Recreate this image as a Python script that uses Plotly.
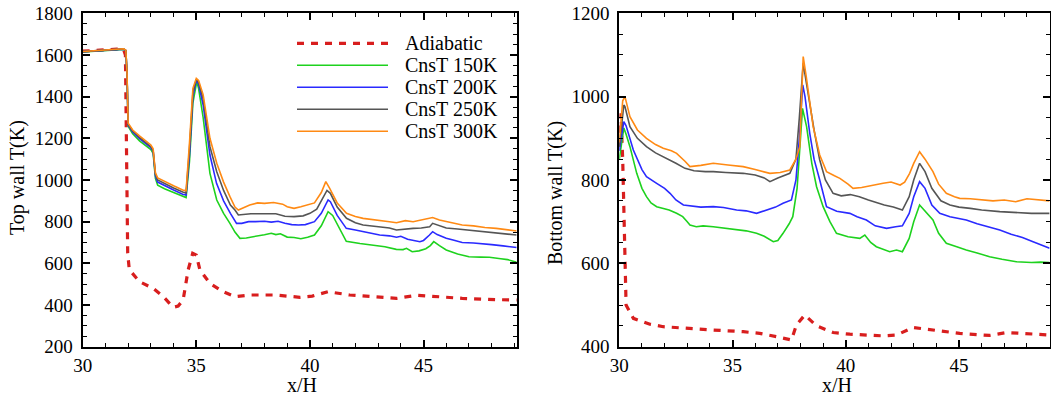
import plotly.graph_objects as go

# ---------------- data: top wall (left panel) ----------------
top_adi_x = [30.0, 30.5, 31.0, 31.5, 31.8, 31.88, 31.92, 31.95, 31.98, 32.05, 32.5, 33.1, 33.55, 33.98, 34.2,
             34.42, 34.64, 34.84, 35.0, 35.16, 35.6, 36.18, 36.7, 37.35, 38.5, 39.56, 40.1, 40.8, 41.75, 42.8,
             43.81, 44.7, 46.7, 48.2, 49.1]
top_adi_y = [1618, 1620, 1625, 1628, 1626, 1600, 1300, 900, 650, 570, 512, 480, 440, 389, 395,
             424, 568, 648, 640, 568, 504, 464, 440, 448, 448, 437, 443, 464, 448, 440,
             432, 447, 432, 426, 424]

top_c150_x = [30.0, 30.5, 31.0, 31.5, 31.8, 31.9, 31.95, 32.0, 32.2, 32.5, 32.8, 33.0, 33.1, 33.15, 33.2, 33.3,
              33.6, 34.0, 34.4, 34.55, 34.7, 34.85, 35.02, 35.1, 35.3, 35.6, 35.9, 36.2, 36.48, 36.7, 36.92,
              37.2, 37.5, 37.8, 38.0, 38.3, 38.5, 38.7, 39.0, 39.3, 39.6, 39.9, 40.2, 40.5, 40.8, 41.0, 41.3,
              41.6, 42.2, 42.8, 43.3, 43.8, 44.1, 44.25, 44.5, 44.8, 45.1, 45.3, 45.45, 45.7, 46.0, 46.5, 47.0,
              47.5, 47.9, 48.4, 48.7, 49.1]
top_c150_y = [1615, 1618, 1622, 1626, 1627, 1620, 1500, 1258, 1222, 1188, 1162, 1146, 1128, 1078, 1008, 975,
              958, 940, 922, 916, 1090, 1370, 1472, 1440, 1300, 1032, 904, 840, 792, 750, 720,
              722, 728, 732, 737, 744, 738, 742, 726, 724, 718, 725, 736, 780, 848, 830, 770,
              706, 695, 688, 680, 667, 666, 672, 656, 660, 670, 685, 704, 685, 664, 645, 632,
              630, 629, 622, 618, 605]

top_c200_x = [30.0, 30.5, 31.0, 31.5, 31.8, 31.9, 31.95, 32.0, 32.2, 32.5, 32.8, 33.0, 33.1, 33.15, 33.2, 33.3,
              33.6, 34.0, 34.4, 34.55, 34.7, 34.85, 35.0, 35.1, 35.3, 35.6, 35.89, 36.2, 36.5, 36.62, 36.77,
              37.0, 37.3, 37.6, 38.0, 38.3, 38.6, 38.9, 39.2, 39.5, 39.8, 40.2, 40.5, 40.8, 40.9, 41.2, 41.6,
              42.0, 42.34, 42.78, 43.07, 43.5, 43.81, 44.0, 44.3, 44.84, 45.0, 45.25, 45.4, 45.6, 46.0, 46.3,
              46.7, 47.2, 47.46, 48.0, 48.5, 49.1]
top_c200_y = [1616, 1619, 1623, 1627, 1628, 1621, 1505, 1264, 1230, 1198, 1172, 1155, 1138, 1090, 1020, 990,
              972, 952, 932, 928, 1120, 1400, 1480, 1460, 1360, 1120, 984, 900, 840, 816, 792,
              792, 800, 800, 802, 798, 802, 792, 786, 784, 786, 800, 840, 904, 896, 830, 768,
              760, 752, 742, 736, 732, 725, 730, 716, 704, 710, 735, 752, 738, 720, 712,
              700, 698, 696, 690, 684, 676]

top_c250_x = [30.0, 30.5, 31.0, 31.5, 31.8, 31.9, 31.95, 32.0, 32.2, 32.5, 32.8, 33.0, 33.1, 33.15, 33.2, 33.3,
              33.6, 34.0, 34.4, 34.55, 34.7, 34.85, 35.0, 35.1, 35.3, 35.6, 35.9, 36.2, 36.5, 36.7, 36.85,
              37.1, 37.4, 37.8, 38.2, 38.5, 38.9, 39.3, 39.7, 40.0, 40.3, 40.5, 40.75, 40.9, 41.2, 41.61,
              42.0, 42.34, 42.8, 43.07, 43.5, 43.81, 44.2, 44.54, 44.9, 45.27, 45.4, 45.6, 46.0, 46.5, 47.0,
              47.5, 48.0, 48.5, 49.1]
top_c250_y = [1616, 1619, 1624, 1628, 1629, 1622, 1510, 1268, 1235, 1205, 1178, 1160, 1142, 1095, 1028, 1000,
              982, 962, 942, 938, 1150, 1420, 1484, 1470, 1390, 1160, 1040, 950, 880, 856, 832,
              835, 838, 838, 836, 838, 826, 824, 828, 840, 860, 900, 950, 936, 870, 816,
              795, 784, 778, 776, 770, 760, 765, 768, 770, 776, 792, 784, 770, 765, 760,
              752, 748, 742, 736]

top_c300_x = [30.0, 30.5, 31.0, 31.5, 31.8, 31.9, 31.95, 32.0, 32.2, 32.5, 32.8, 33.0, 33.1, 33.15, 33.2, 33.3,
              33.6, 34.0, 34.4, 34.55, 34.7, 34.85, 35.0, 35.1, 35.3, 35.6, 35.9, 36.2, 36.48, 36.7, 36.85,
              37.1, 37.35, 37.7, 38.0, 38.4, 38.8, 39.0, 39.3, 39.6, 39.9, 40.2, 40.5, 40.7, 40.87, 41.2,
              41.61, 42.0, 42.34, 42.7, 43.07, 43.5, 43.81, 44.2, 44.54, 44.9, 45.27, 45.4, 45.7, 46.2, 46.7,
              47.2, 47.7, 48.2, 48.6, 49.1]
top_c300_y = [1617, 1620, 1625, 1629, 1630, 1623, 1515, 1272, 1240, 1212, 1185, 1168, 1150, 1100, 1035, 1010,
              992, 972, 952, 948, 1180, 1440, 1488, 1478, 1410, 1200, 1080, 990, 920, 870, 856,
              870, 880, 890, 888, 892, 884, 872, 864, 872, 880, 890, 940, 992, 960, 890,
              840, 825, 816, 812, 808, 800, 795, 805, 800, 808, 816, 820, 808, 795, 784,
              780, 772, 768, 762, 755]

# ---------------- data: bottom wall (right panel) ----------------
bot_adi_x = [30.0, 30.07, 30.15, 30.22, 30.3, 30.62, 31.35, 31.94, 32.83, 34.15, 35.47, 36.2, 36.94, 37.6,
             37.82, 38.19, 38.71, 39.44, 40.18, 41.65, 42.24, 42.97, 43.56, 45.03, 46.35, 47.1, 49.0]
bot_adi_y = [880, 960, 850, 650, 500, 468, 454, 448, 444, 440, 436, 432, 424, 416,
             452, 476, 450, 434, 430, 426, 428, 446, 442, 432, 427, 434, 428]

bot_c150_x = [30.0, 30.2, 30.3, 30.47, 30.77, 31.0, 31.2, 31.4, 31.65, 31.9, 32.2, 32.53, 32.8, 33.0, 33.12,
              33.4, 33.7, 34.15, 34.6, 35.18, 35.6, 36.06, 36.4, 36.8, 37.0, 37.23, 37.5, 37.66, 37.85, 38.0,
              38.09, 38.27, 38.5, 38.71, 39.0, 39.3, 39.59, 40.1, 40.62, 40.84, 41.1, 41.35, 41.7, 41.94,
              42.24, 42.5, 42.8, 43.0, 43.26, 43.5, 43.85, 44.1, 44.44, 44.9, 45.32, 45.8, 46.35, 46.9,
              47.53, 48.2, 48.6, 49.0]
bot_c150_y = [850, 925, 910, 880, 816, 780, 760, 745, 736, 732, 728, 720, 712, 700, 692,
              688, 690, 688, 685, 680, 678, 672, 665, 652, 655, 672, 695, 712, 780, 900,
              972, 928, 840, 784, 736, 700, 672, 664, 660, 668, 650, 640, 632, 628,
              632, 628, 660, 700, 740, 725, 704, 672, 648, 640, 632, 625, 616, 610,
              604, 602, 603, 602]

bot_c200_x = [30.0, 30.2, 30.3, 30.62, 31.0, 31.2, 31.65, 32.0, 32.24, 32.5, 32.83, 33.2, 33.6, 34.15, 34.6,
              35.18, 35.6, 36.06, 36.5, 36.9, 37.23, 37.6, 37.8, 37.95, 38.1, 38.2, 38.41, 38.6, 38.85, 39.15,
              39.6, 40.18, 40.5, 40.91, 41.3, 41.8, 42.2, 42.5, 42.8, 43.0, 43.26, 43.5, 43.8, 44.15, 44.6,
              45.0, 45.32, 45.8, 46.3, 46.8, 47.3, 47.8, 48.27, 48.6, 49.0]
bot_c200_y = [870, 940, 930, 872, 825, 808, 792, 780, 768, 752, 740, 738, 735, 736, 734,
              728, 726, 720, 728, 735, 744, 752, 800, 900, 1028, 1000, 912, 850, 800, 736,
              725, 720, 712, 704, 690, 684, 688, 690, 720, 760, 796, 780, 740, 720, 712,
              708, 704, 695, 688, 680, 670, 662, 652, 645, 636]

bot_c250_x = [30.0, 30.2, 30.25, 30.47, 30.8, 31.2, 31.6, 31.94, 32.5, 32.9, 33.3, 33.8, 34.15, 34.7, 35.47,
              36.0, 36.4, 36.65, 37.0, 37.53, 37.8, 37.95, 38.12, 38.3, 38.6, 38.85, 39.1, 39.44, 39.8, 40.2,
              40.6, 41.0, 41.4, 41.7, 42.1, 42.5, 42.8, 43.0, 43.26, 43.5, 43.8, 44.2, 44.6, 45.0, 45.5,
              46.0, 46.8, 47.5, 48.2, 49.0]
bot_c250_y = [880, 980, 976, 928, 900, 880, 865, 856, 840, 828, 822, 820, 820, 818, 816,
              812, 805, 796, 805, 816, 850, 950, 1080, 1020, 920, 848, 800, 768, 762, 765,
              760, 752, 745, 740, 735, 728, 760, 800, 840, 820, 780, 750, 740, 735, 732,
              728, 724, 722, 720, 720]

bot_c300_x = [30.0, 30.15, 30.25, 30.47, 30.8, 31.2, 31.6, 31.94, 32.3, 32.53, 32.9, 33.12, 33.6, 34.15, 34.8,
              35.47, 36.0, 36.4, 36.65, 37.1, 37.53, 37.8, 37.97, 38.05, 38.12, 38.25, 38.56, 38.85, 39.15,
              39.5, 39.74, 40.1, 40.32, 40.7, 41.2, 41.65, 42.0, 42.4, 42.6, 42.82, 43.0, 43.26, 43.5, 43.85,
              44.1, 44.44, 44.8, 45.03, 45.5, 46.0, 46.5, 47.0, 47.5, 48.0, 48.5, 49.0]
bot_c300_y = [890, 990, 1000, 952, 920, 900, 885, 876, 870, 864, 845, 832, 835, 840, 836,
              832, 825, 820, 816, 818, 824, 850, 880, 1000, 1096, 1050, 928, 860, 820,
              810, 804, 790, 780, 782, 788, 792, 795, 788, 795, 816, 840, 868, 850, 820,
              790, 768, 760, 756, 755, 752, 750, 752, 748, 755, 752, 750]

series_names = ["Adiabatic", "CnsT 150K", "CnsT 200K", "CnsT 250K", "CnsT 300K"]
series_colors = ["#d81e1e", "#1ed21e", "#2a2aff", "#555555", "#ff8a14"]

top_series = [(top_adi_x, top_adi_y), (top_c150_x, top_c150_y), (top_c200_x, top_c200_y),
              (top_c250_x, top_c250_y), (top_c300_x, top_c300_y)]
bot_series = [(bot_adi_x, bot_adi_y), (bot_c150_x, bot_c150_y), (bot_c200_x, bot_c200_y),
              (bot_c250_x, bot_c250_y), (bot_c300_x, bot_c300_y)]

FONT = "Liberation Serif"
W, H = 1051, 396

fig = go.Figure()


def line_style(i):
    if i == 0:
        return dict(color=series_colors[i], width=3.2, dash="7px,7px")
    return dict(color=series_colors[i], width=1.6)


for i, (xs, ys) in enumerate(top_series):
    fig.add_trace(go.Scatter(x=xs, y=ys, mode="lines", name=series_names[i], line=line_style(i),
                             xaxis="x", yaxis="y", showlegend=False))
for i, (xs, ys) in enumerate(bot_series):
    fig.add_trace(go.Scatter(x=xs, y=ys, mode="lines", name=series_names[i], line=line_style(i),
                             xaxis="x2", yaxis="y2", showlegend=False))

ydom = [(H - 346.7) / H, (H - 13.3) / H]
ax_common = dict(showline=True, linewidth=2.2, linecolor="black", mirror="allticks", ticks="inside",
                 ticklen=7, tickwidth=1.5, tickcolor="black", showgrid=False, zeroline=False,
                 automargin=False,
                 tickfont=dict(family=FONT, size=19, color="black"))
minor_x = dict(dtick=1, ticks="inside", ticklen=4, tickwidth=1.2, tickcolor="black", showgrid=False)
minor_y = dict(dtick=50, ticks="inside", ticklen=4, tickwidth=1.2, tickcolor="black", showgrid=False)

fig.update_layout(
    width=W, height=H, margin=dict(l=0, r=0, t=0, b=0, autoexpand=False),
    paper_bgcolor="white", plot_bgcolor="white",
    xaxis=dict(domain=[82.7 / W, 516.7 / W], range=[30, 49.1], dtick=5, tick0=30, minor=minor_x,
               anchor="y", ticklabelstandoff=0, **ax_common),
    yaxis=dict(domain=ydom, range=[200, 1800], dtick=200, tick0=200, minor=minor_y,
               anchor="x", ticklabelstandoff=4, **ax_common),
    xaxis2=dict(domain=[619.3 / W, 1049.6 / W], range=[30, 49.0], dtick=5, tick0=30, minor=minor_x,
                anchor="y2", ticklabelstandoff=0, **ax_common),
    yaxis2=dict(domain=ydom, range=[400, 1200], dtick=200, tick0=400, minor=minor_y,
                anchor="x2", ticklabelstandoff=4, **ax_common),
)

# axis titles
titles = [
    dict(text="Top wall T(K)", x=17 / W, y=1 - 178 / H, textangle=-90),
    dict(text="Bottom wall T(K)", x=555 / W, y=1 - 193 / H, textangle=-90),
    dict(text="x/H", x=302 / W, y=1 - 384.5 / H, textangle=0),
    dict(text="x/H", x=837 / W, y=1 - 384.5 / H, textangle=0),
]
for t in titles:
    fig.add_annotation(xref="paper", yref="paper", showarrow=False, xanchor="center", yanchor="middle",
                       font=dict(family=FONT, size=20, color="black"), **t)

# legend (drawn in the left panel, paper coordinates)
leg_y0 = 43.3
leg_dy = 22.0
for i, name in enumerate(series_names):
    yy = 1 - (leg_y0 + i * leg_dy) / H
    st = line_style(i)
    fig.add_shape(type="line", xref="paper", yref="paper", x0=297 / W, x1=388 / W, y0=yy, y1=yy,
                  line=dict(color=st["color"], width=st["width"],
                            dash=st.get("dash", "solid")))
    fig.add_annotation(xref="paper", yref="paper", x=403 / W, y=yy, text=name, showarrow=False,
                       xanchor="left", yanchor="middle", font=dict(family=FONT, size=20, color="black"))

fig.write_html("out.html", config={"displayModeBar": False},
               post_script="document.body.style.margin='0';document.body.style.overflow='hidden';")
